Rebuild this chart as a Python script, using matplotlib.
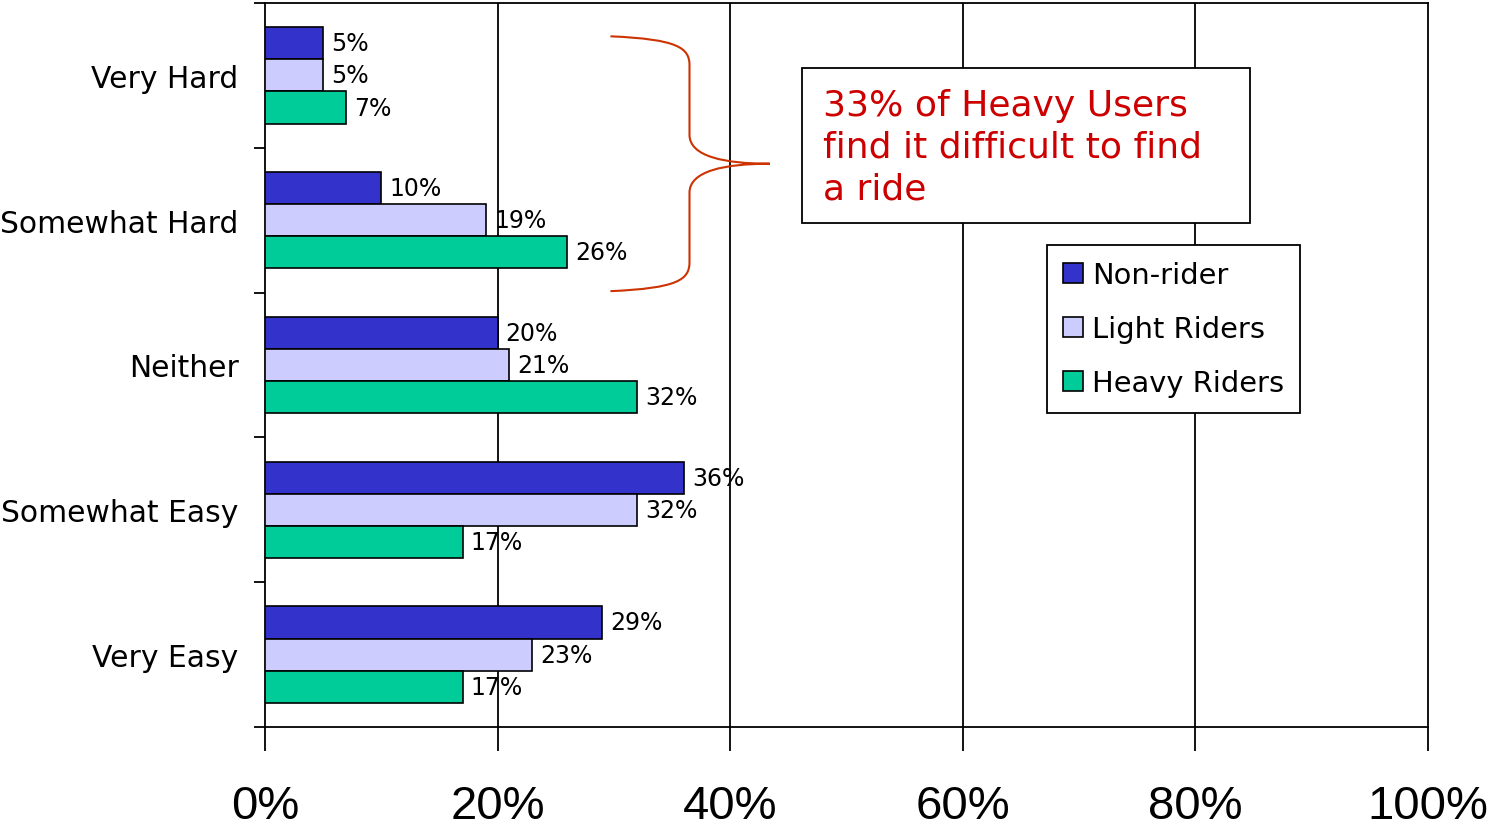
import numpy as np
import matplotlib
matplotlib.use("Agg")
from matplotlib import pyplot as plt
from matplotlib.path import Path
from matplotlib.patches import PathPatch, Rectangle

categories = ["Very Hard", "Somewhat Hard", "Neither", "Somewhat Easy", "Very Easy"]
non_rider = [5, 10, 20, 36, 29]
light_riders = [5, 19, 21, 32, 23]
heavy_riders = [7, 26, 32, 17, 17]
series_names = ["Non-rider", "Light Riders", "Heavy Riders"]
series_colors = ["#3333CC", "#CCCCFF", "#00CC99"]
x_ticks = [0, 20, 40, 60, 80, 100]
callout = "33% of Heavy Users\nfind it difficult to find\na ride"

plt.rcParams["font.family"] = ["DejaVu Sans"]

fig = plt.figure(figsize=(14.93, 8.29), dpi=100)
ax = fig.add_axes([265 / 1493, 1 - 728 / 829, (1428 - 265) / 1493, (728 - 4) / 829])

y = np.arange(len(categories))
h = 0.222
for k, (vals, name, col) in enumerate(zip([non_rider, light_riders, heavy_riders], series_names, series_colors)):
    pos = y + (k - 1) * h
    ax.barh(pos, vals, height=h, color=col, edgecolor="black", linewidth=1.2, label=name, zorder=3)
    for p, v in zip(pos, vals):
        ax.text(v + 0.7, p, f"{v}%", va="center", ha="left", fontsize=17, zorder=4)

ax.set_xlim(0, 100)
ax.set_ylim(len(categories) - 0.5, -0.5)

for g in x_ticks[1:-1]:
    ax.axvline(g, color="black", linewidth=1.3, zorder=1)

ax.set_xticks(x_ticks)
ax.set_xticklabels([f"{t}%" for t in x_ticks], fontsize=34, family="Liberation Sans")
ax.tick_params(axis="x", direction="out", length=17, width=1.3, pad=24)

ax.set_yticks(np.arange(len(categories) + 1) - 0.5)
ax.set_yticklabels([])
ax.tick_params(axis="y", which="major", direction="out", length=8, width=1.3)
ax.set_yticks(y, minor=True)
ax.set_yticklabels(categories, minor=True, fontsize=21.4)
ax.tick_params(axis="y", which="minor", length=0, pad=19)

for s in ax.spines.values():
    s.set_linewidth(1.3)

# curly brace grouping the two "hard" rows
bx0, bx1, bx2 = 29.7, 36.5, 43.4
yt, ym, yb = -0.27, 0.61, 1.49
verts = [
    (bx0, yt), (bx1 - 1, yt + 0.02), (bx1, yt + 0.08), (bx1, yt + 0.2),
    (bx1, ym - 0.2),
    (bx1, ym - 0.05), (bx1 + 3, ym), (bx2, ym),
    (bx1 + 3, ym), (bx1, ym + 0.05), (bx1, ym + 0.2),
    (bx1, yb - 0.2),
    (bx1, yb - 0.08), (bx1 - 1, yb - 0.02), (bx0, yb),
]
codes = [Path.MOVETO, Path.CURVE4, Path.CURVE4, Path.CURVE4,
         Path.LINETO,
         Path.CURVE4, Path.CURVE4, Path.CURVE4,
         Path.CURVE4, Path.CURVE4, Path.CURVE4,
         Path.LINETO,
         Path.CURVE4, Path.CURVE4, Path.CURVE4]
ax.add_patch(PathPatch(Path(verts, codes), facecolor="none", edgecolor="#CC3300", linewidth=1.5, zorder=5))

# callout box
ax.add_patch(Rectangle((46.2, -0.05), 84.7 - 46.2, 1.017 + 0.05, facecolor="white",
                       edgecolor="black", linewidth=1.3, zorder=6))
ax.text(48.0, 0.493, callout, color="#CC0000", fontsize=26, va="center", ha="left",
        linespacing=1.27, zorder=7)

leg = ax.legend(loc="upper left", bbox_to_anchor=((1047 - 265) / 1163, 1 - (246 - 4) / 724),
                fontsize=20.8, frameon=True, fancybox=False, edgecolor="black", framealpha=1,
                handlelength=0.7, handleheight=0.7, handletextpad=0.3, labelspacing=0.9,
                borderpad=0.55, borderaxespad=0)
leg.get_frame().set_linewidth(1.3)
leg.set_zorder(6)

fig.savefig("out.png", dpi=100)
